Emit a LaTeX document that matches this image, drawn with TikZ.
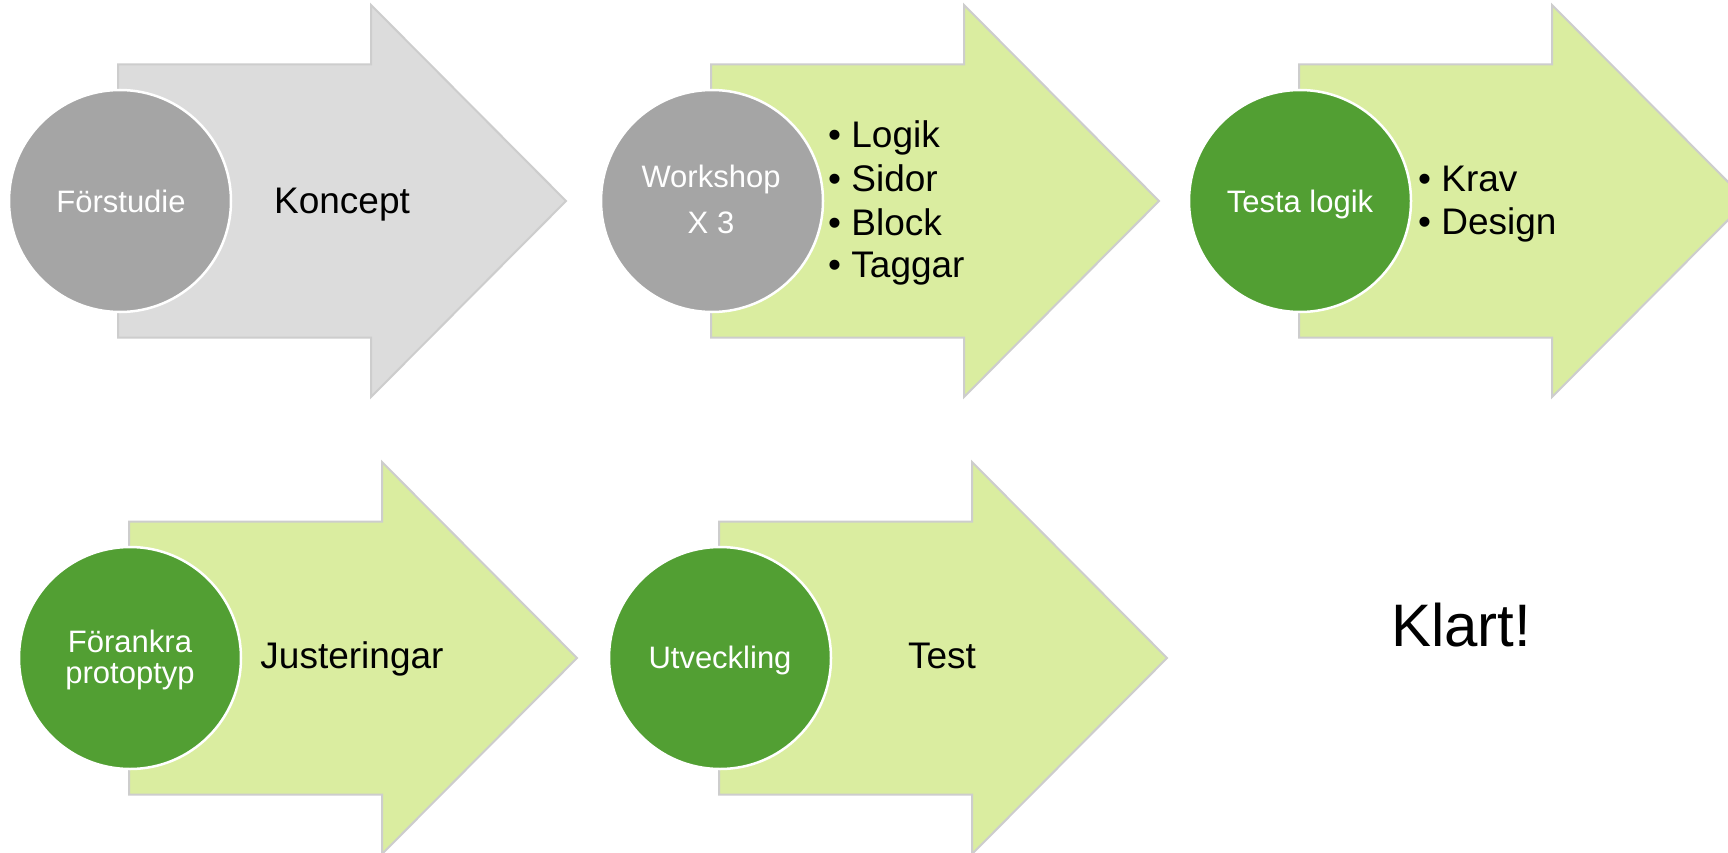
\documentclass[tikz,border=0pt]{standalone}
\usepackage{fontspec}
\setmainfont{Liberation Sans}
\definecolor{greyarrow}{HTML}{DCDCDC}
\definecolor{greycirc}{HTML}{A5A5A5}
\definecolor{greenarrow}{HTML}{DAEDA0}
\definecolor{greencirc}{HTML}{529F33}
\definecolor{arrowline}{HTML}{CDCDCD}
\newcommand\procarrow[3]{%
  \draw[arrowshape, fill=#3] (#1,#2-136.5) -- (#1+253,#2-136.5) -- (#1+253,#2-196)
    -- (#1+448,#2) -- (#1+253,#2+196) -- (#1+253,#2+136.5) -- (#1,#2+136.5) -- cycle;}
\tikzset{
  arrowshape/.style={draw=arrowline, line width=2pt, line join=miter},
  phase/.style={circle, minimum size=222pt, inner sep=0pt, draw=white, line width=2.5pt},
  phasetext/.style={text=white, font=\fontsize{31}{37}\selectfont, inner sep=0pt, anchor=base},
  bodytext/.style={text=black, font=\fontsize{37}{43}\selectfont, inner sep=0pt},
}
\begin{document}
\begin{tikzpicture}[x=1pt, y=-1pt]
\useasboundingbox (0,0) rectangle (1728,853);
\clip (0,0) rectangle (1728,853);
\fill[white] (0,0) rectangle (1728,853);

% row 1
\procarrow{118}{201}{greyarrow}
\procarrow{711}{201}{greenarrow}
\procarrow{1299}{201}{greenarrow}
% row 2
\procarrow{129}{658}{greenarrow}
\procarrow{719}{658}{greenarrow}

% circles
\node[phase, fill=greycirc] (c1) at (120,201) {};
\node[phase, fill=greycirc] (c2) at (712,201) {};
\node[phase, fill=greencirc] (c3) at (1300,201) {};
\node[phase, fill=greencirc] (c4) at (130,658) {};
\node[phase, fill=greencirc] (c5) at (720,658) {};

% circle labels
\node[phasetext] (t1) at (121,212) {Förstudie};
\node[phasetext] (t2a) at (711,188) {Workshop};
\node[phasetext] (t2b) at (711,233) {X 3};
\node[phasetext] (t3) at (1300,212) {Testa logik};
\node[phasetext] (t4a) at (130,652) {Förankra};
\node[phasetext] (t4b) at (130,683) {protoptyp};
\node[phasetext] (t5) at (720,668) {Utveckling};

% arrow contents
\node[bodytext, anchor=base] (k1) at (342,213) {Koncept};
\node[bodytext, anchor=base west] (l1) at (828,148) {• Logik};
\node[bodytext, anchor=base west] (l2) at (828,192) {• Sidor};
\node[bodytext, anchor=base west] (l3) at (828,235) {• Block};
\node[bodytext, anchor=base west] (l4) at (828,277) {• Taggar};
\node[bodytext, anchor=base west] (m1) at (1418,191) {• Krav};
\node[bodytext, anchor=base west] (m2) at (1418,234) {• Design};
\node[bodytext, anchor=base] (j1) at (352,668) {Justeringar};
\node[bodytext, anchor=base] (te) at (942,668) {Test};

\node[text=black, font=\fontsize{60}{70}\selectfont, inner sep=0pt, anchor=base] (klart) at (1461,646) {Klart!};
\end{tikzpicture}
\end{document}
